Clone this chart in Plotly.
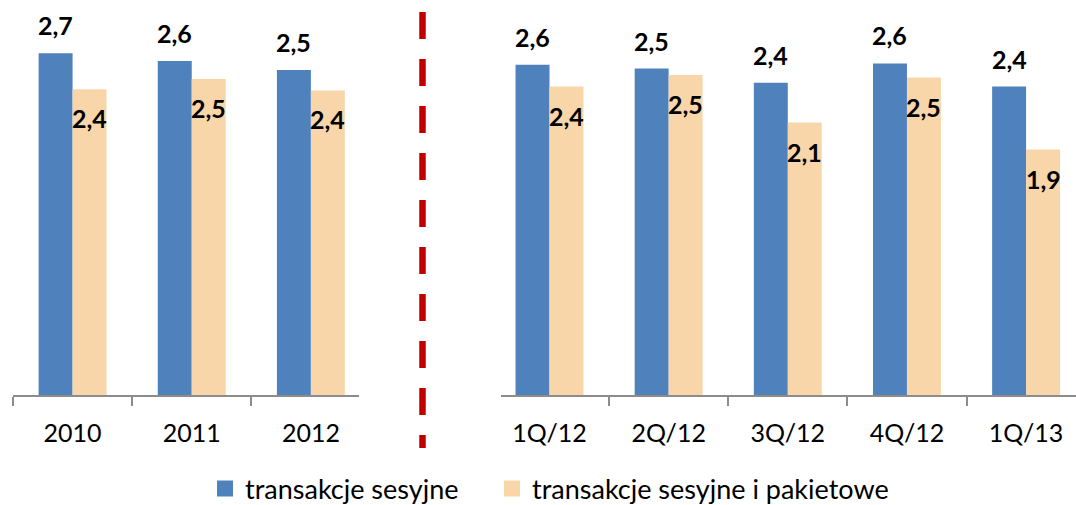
import plotly.graph_objects as go

# ---- data ----
years = ["2010", "2011", "2012"]
years_sesyjne = [2.66, 2.60, 2.53]
years_pakietowe = [2.38, 2.46, 2.37]

quarters = ["1Q/12", "2Q/12", "3Q/12", "4Q/12", "1Q/13"]
quarters_sesyjne = [2.57, 2.54, 2.43, 2.58, 2.40]
quarters_pakietowe = [2.40, 2.49, 2.12, 2.47, 1.91]

series_names = ["transakcje sesyjne", "transakcje sesyjne i pakietowe"]

# ---- style ----
BLUE = "#4F81BD"
PEACH = "#F8D6A9"
AXIS = "#8C8C8C"
FONT = "Lato"
W, H = 1076, 505
BASE = 395  # px of baseline
PX_PER_UNIT = 128.5
CAT_PX = 119.15


def lab(v):
    return f"{v:.1f}".replace(".", ",")


fig = go.Figure()
for xs, b, o, ax in [(years, years_sesyjne, years_pakietowe, "x"),
                     (quarters, quarters_sesyjne, quarters_pakietowe, "x2")]:
    fig.add_trace(go.Bar(x=xs, y=b, marker=dict(color=BLUE, line=dict(width=0)),
                         xaxis=ax, yaxis="y", showlegend=False, name=series_names[0]))
    fig.add_trace(go.Bar(x=xs, y=o, marker=dict(color=PEACH, line=dict(width=0)),
                         xaxis=ax, yaxis="y", showlegend=False, name=series_names[1]))
    for i, (vb, vo) in enumerate(zip(b, o)):
        fig.add_annotation(x=i, y=vb, xref=ax, yref="y", text=f"<b>{lab(vb)}</b>",
                           showarrow=False, xshift=-17, yshift=28, yanchor="middle",
                           font=dict(family=FONT, size=25, color="#000000"))
        fig.add_annotation(x=i, y=vo, xref=ax, yref="y", text=f"<b>{lab(vo)}</b>",
                           showarrow=False, xshift=17, yshift=-29, yanchor="middle",
                           font=dict(family=FONT, size=25, color="#000000"))

# legend entries (one legend per entry so each can be placed)
for nm, col, lg in zip(series_names, [BLUE, PEACH], ["legend", "legend2"]):
    fig.add_trace(go.Scatter(x=[None], y=[None], mode="markers", name=nm, legend=lg,
                             marker=dict(symbol="square", size=16, color=col, line=dict(width=0)),
                             xaxis="x", yaxis="y"))

axis_common = dict(type="category", tickson="boundaries", ticks="outside", ticklen=9,
                   tickcolor=AXIS, tickwidth=1.5, showline=True, linecolor=AXIS, linewidth=1.5,
                   showgrid=False, zeroline=False, fixedrange=True,
                   tickfont=dict(family=FONT, size=25, color="#000000"),
                   ticklabelstandoff=15)

legend_common = dict(orientation="h", yanchor="middle", y=(BASE - 489) / BASE, xanchor="left",
                     font=dict(family=FONT, size=27, color="#000000"),
                     bgcolor="rgba(0,0,0,0)", borderwidth=0)

left_dom = [13 / W, 359 / W]
right_dom = [501 / W, 1.0]
fig.update_layout(
    width=W, height=H,
    margin=dict(l=0, r=0, t=0, b=H - BASE, pad=0, autoexpand=False),
    paper_bgcolor="white", plot_bgcolor="white",
    barmode="group", bargap=0.43, bargroupgap=0,
    xaxis=dict(domain=left_dom, categoryarray=years, categoryorder="array",
               range=[-0.5, -0.5 + (359 - 13) / CAT_PX], anchor="y", **axis_common),
    xaxis2=dict(domain=right_dom, categoryarray=quarters, categoryorder="array",
                range=[-(549.5 - 501) / CAT_PX, (W - 549.5) / CAT_PX], anchor="y", **axis_common),
    yaxis=dict(range=[0, BASE / PX_PER_UNIT], visible=False, fixedrange=True),
    legend=dict(x=205 / W, **legend_common),
    legend2=dict(x=492 / W, **legend_common),
    shapes=[dict(type="line", xref="paper", yref="paper",
                 x0=422.5 / W, x1=422.5 / W, y0=(BASE - 12) / BASE, y1=(BASE - 448) / BASE,
                 line=dict(color="#C00000", width=6.5, dash="27px,20px"))],
)

fig.write_html("out.html", config={"displayModeBar": False},
               post_script="document.body.style.margin='0';document.body.style.padding='0';")
